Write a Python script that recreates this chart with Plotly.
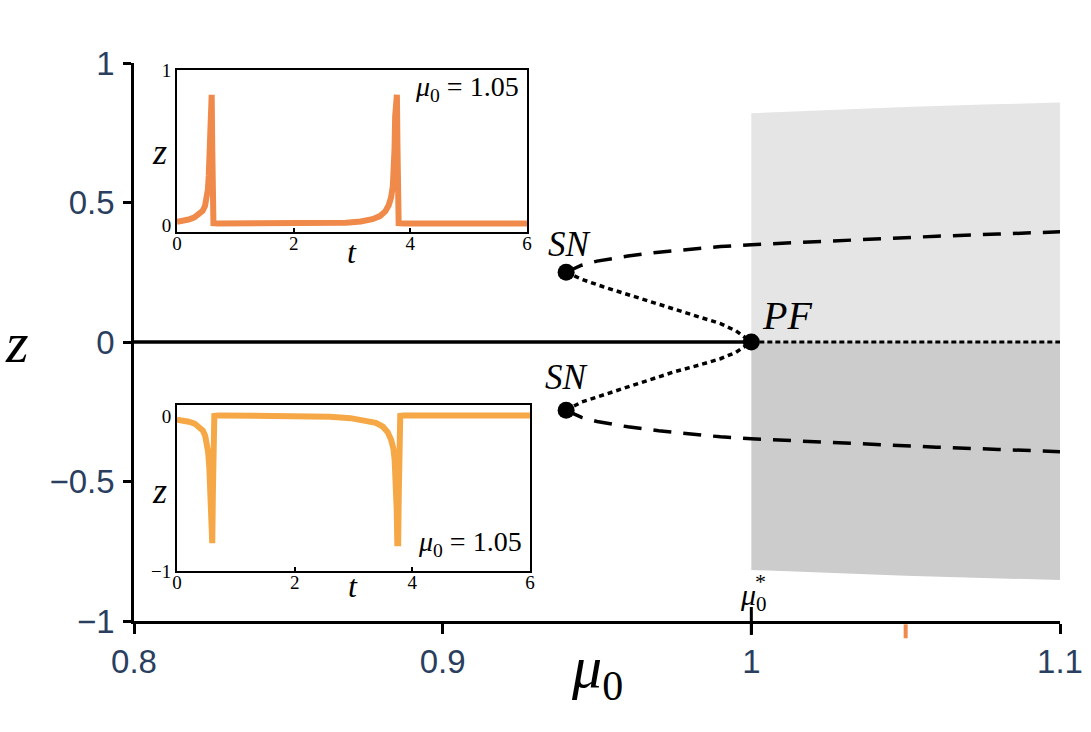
import plotly.graph_objects as go

# main bifurcation diagram (mu0 vs z)
mu_stable = [0.8, 1.0]
z_stable = [0.0, 0.0]

mu_saddle = [0.94, 0.945, 0.95, 0.96, 0.97, 0.98, 0.99, 1.0, 1.02, 1.04, 1.06, 1.08, 1.1]
z_saddle_up = [0.25, 0.275, 0.29, 0.308, 0.322, 0.333, 0.342, 0.349, 0.36, 0.37, 0.379, 0.387, 0.395]
z_saddle_dn = [-0.245, -0.27, -0.285, -0.304, -0.318, -0.33, -0.34, -0.347, -0.358, -0.368, -0.377, -0.385, -0.393]

mu_unstable = [0.94, 0.945, 0.952, 0.96, 0.968, 0.975, 0.983, 0.99, 0.995, 1.0]
z_unstable_up = [0.25, 0.225, 0.198, 0.17, 0.14, 0.115, 0.09, 0.066, 0.04, 0.0]
z_unstable_dn = [-0.245, -0.215, -0.19, -0.16, -0.13, -0.107, -0.083, -0.06, -0.037, 0.0]

mu_zero_unstable = [1.0, 1.1]
z_zero_unstable = [0.0, 0.0]

mu_shade = [1.0, 1.025, 1.05, 1.075, 1.1]
shade_top = [0.82, 0.832, 0.842, 0.851, 0.858]
shade_bot = [-0.817, -0.828, -0.838, -0.846, -0.853]

sn_mu = [0.94, 0.94]
sn_z = [0.25, -0.245]
pf_mu = [1.0]
pf_z = [0.0]
mu_example = 1.05

# insets: time series at mu0 = 1.05
t_up = [0.00, 0.10, 0.20, 0.30, 0.38, 0.44, 0.48, 0.51, 0.53, 0.545, 0.555, 0.565, 0.575, 0.595,
        0.605, 0.615, 0.625, 0.70, 1.50, 2.50, 2.90, 3.15, 3.35, 3.48, 3.57, 3.63, 3.67, 3.70,
        3.72, 3.73, 3.74, 3.75, 3.77, 3.78, 3.79, 3.80, 3.90, 6.00]
z_up = [0.022, 0.028, 0.036, 0.05, 0.068, 0.092, 0.122, 0.17, 0.23, 0.32, 0.45, 0.65, 0.84, 0.84,
        0.5, 0.15, 0.012, 0.01, 0.01, 0.011, 0.015, 0.023, 0.038, 0.058, 0.088, 0.128, 0.178, 0.25,
        0.36, 0.5, 0.7, 0.84, 0.84, 0.5, 0.15, 0.012, 0.01, 0.01]

t_dn = [0.00, 0.10, 0.20, 0.30, 0.38, 0.44, 0.48, 0.51, 0.53, 0.55, 0.565, 0.575, 0.585, 0.60,
        0.61, 0.62, 0.635, 0.70, 2.00, 2.60, 2.95, 3.20, 3.38, 3.50, 3.58, 3.64, 3.68, 3.70,
        3.72, 3.735, 3.745, 3.76, 3.77, 3.78, 3.795, 3.85, 6.00]
z_dn = [-0.02, -0.025, -0.033, -0.045, -0.065, -0.09, -0.125, -0.17, -0.23, -0.33, -0.48, -0.65, -0.82, -0.82,
        -0.5, -0.15, 0.005, 0.008, 0.008, 0.0, -0.01, -0.022, -0.04, -0.065, -0.1, -0.15, -0.21, -0.28,
        -0.4, -0.6, -0.82, -0.82, -0.5, -0.15, 0.005, 0.008, 0.008]

orange_up = "#f08a4b"
orange_dn = "#f5a845"
serif = "Liberation Serif"
tickcol = "#2a3f5f"

fig = go.Figure()

# shaded regions
fig.add_trace(go.Scatter(x=mu_shade + mu_shade[::-1], y=shade_top + [0.0] * len(mu_shade),
                         fill="toself", fillcolor="#e5e5e5", line=dict(width=0), mode="lines",
                         hoverinfo="skip"))
fig.add_trace(go.Scatter(x=mu_shade + mu_shade[::-1], y=shade_bot + [0.0] * len(mu_shade),
                         fill="toself", fillcolor="#cccccc", line=dict(width=0), mode="lines",
                         hoverinfo="skip"))

fig.add_trace(go.Scatter(x=mu_stable, y=z_stable, mode="lines", line=dict(color="black", width=3.5)))
for zz in (z_saddle_up, z_saddle_dn):
    fig.add_trace(go.Scatter(x=mu_saddle, y=zz, mode="lines",
                             line=dict(color="black", width=3.5, dash="18px,12px")))
for zz in (z_unstable_up, z_unstable_dn):
    fig.add_trace(go.Scatter(x=mu_unstable, y=zz, mode="lines",
                             line=dict(color="black", width=3.5, dash="5px,4px")))
fig.add_trace(go.Scatter(x=mu_zero_unstable, y=z_zero_unstable, mode="lines",
                         line=dict(color="black", width=3, dash="5px,3px")))
fig.add_trace(go.Scatter(x=sn_mu + pf_mu, y=sn_z + pf_z, mode="markers",
                         marker=dict(color="black", size=17)))

# inside part of the mu0* tick
fig.add_trace(go.Scatter(x=[1.0], y=[-1.0], mode="markers", cliponaxis=False,
                         marker=dict(symbol="line-ns", size=20, line=dict(color="black", width=3))))
# orange tick under the axis at mu0 = 1.05
fig.add_shape(type="line", xref="x", yref="paper", x0=mu_example, x1=mu_example, y0=-0.006, y1=-0.031,
              line=dict(color=orange_up, width=4))

# inset time series
fig.add_trace(go.Scatter(x=t_up, y=z_up, mode="lines", xaxis="x2", yaxis="y2",
                         line=dict(color=orange_up, width=6)))
fig.add_trace(go.Scatter(x=t_dn, y=z_dn, mode="lines", xaxis="x3", yaxis="y3",
                         line=dict(color=orange_dn, width=6)))

inset_x = dict(range=[0, 6], tickvals=[0, 2, 4, 6], ticks="inside", ticklen=4, tickwidth=1.5,
               tickcolor="black", showline=True, mirror=True, linecolor="black", linewidth=2,
               showgrid=False, zeroline=False, tickfont=dict(family=serif, size=19, color="black"),
               ticklabelstandoff=-7, automargin=False)
inset_y = dict(ticks="", showline=True, mirror=True, linecolor="black", linewidth=2,
               showgrid=False, zeroline=False, tickfont=dict(family=serif, size=19, color="black"),
               automargin=False)

fig.update_layout(
    width=1091, height=732,
    margin=dict(l=134, r=31, t=63, b=111),
    plot_bgcolor="white", paper_bgcolor="white",
    showlegend=False,
    font=dict(family="Liberation Sans"),
    xaxis=dict(range=[0.8, 1.1], tickvals=[0.8, 0.9, 1.0, 1.1], ticktext=["0.8", "0.9", "1", "1.1"],
               showline=True, linecolor="black", linewidth=2.5, ticks="outside", ticklen=10,
               tickwidth=3, tickcolor="black", showgrid=False, zeroline=False, automargin=False,
               tickfont=dict(size=33, color=tickcol), ticklabelstandoff=0),
    yaxis=dict(range=[-1, 1], tickvals=[-1, -0.5, 0, 0.5, 1], ticktext=["\u22121", "\u22120.5", "0", "0.5", "1"],
               showline=True, linecolor="black", linewidth=2.5, ticks="outside", ticklen=8,
               tickwidth=3, tickcolor="black", showgrid=False, zeroline=False, automargin=False,
               tickfont=dict(size=33, color=tickcol), ticklabelstandoff=2),
    xaxis2=dict(inset_x, domain=[0.0464, 0.4244], anchor="y2"),
    yaxis2=dict(inset_y, domain=[0.697, 0.9875], anchor="x2", range=[-0.045, 1], tickvals=[0, 1]),
    xaxis3=dict(inset_x, domain=[0.0464, 0.4276], anchor="y3"),
    yaxis3=dict(inset_y, domain=[0.0896, 0.387], anchor="x3", range=[-1, 0.075], tickvals=[-1, 0],
                ticktext=["\u22121", "0"]),
)

ann = [
    # main axis titles
    dict(text="<i>z</i>", xref="paper", yref="y", x=-0.141, y=0, font=dict(family=serif, size=58)),
    dict(text="<i>μ</i><sub>0</sub>", xref="x", yref="paper", x=0.95, y=-0.162, font=dict(family=serif, size=60)),
    # point labels
    dict(text="<i>SN</i>", xref="x", yref="y", x=0.941, y=0.25, yshift=28, font=dict(family=serif, size=35)),
    dict(text="<i>SN</i>", xref="x", yref="y", x=0.94, y=-0.245, yshift=33, font=dict(family=serif, size=35)),
    dict(text="<i>PF</i>", xref="x", yref="y", x=1.0, y=0, xshift=36, yshift=27, font=dict(family=serif, size=40)),
    dict(text="<i>μ</i><sub>0</sub>", xref="x", yref="y", x=1.0, y=-1, yshift=24, xshift=2,
         font=dict(family=serif, size=30)),
    dict(text="*", xref="x", yref="y", x=1.0, y=-1, yshift=40, xshift=9, font=dict(family=serif, size=22)),
    # inset labels
    dict(text="<i>μ</i><sub>0</sub> = 1.05", xref="x2", yref="y2", x=5.9, y=0.88, xanchor="right",
         font=dict(family=serif, size=28)),
    dict(text="<i>z</i>", xref="paper", yref="y2", x=0.017, y=0.47, font=dict(family=serif, size=36)),
    dict(text="<i>t</i>", xref="x2", yref="paper", x=3.0, y=0.662, font=dict(family=serif, size=32)),
    dict(text="<i>μ</i><sub>0</sub> = 1.05", xref="x3", yref="y3", x=5.9, y=-0.82, xanchor="right",
         font=dict(family=serif, size=28)),
    dict(text="<i>z</i>", xref="paper", yref="y3", x=0.017, y=-0.48, font=dict(family=serif, size=36)),
    dict(text="<i>t</i>", xref="x3", yref="paper", x=3.0, y=0.026, font=dict(family=serif, size=32)),
]
for a in ann:
    a.setdefault("showarrow", False)
    a.setdefault("font", {})["color"] = "black"
fig.update_layout(annotations=ann)

# page has a default 8px body margin; drop it so the figure sits at the window origin
fig.write_html("out.html", config={"displayModeBar": False},
               post_script="document.body.style.margin='0';")
